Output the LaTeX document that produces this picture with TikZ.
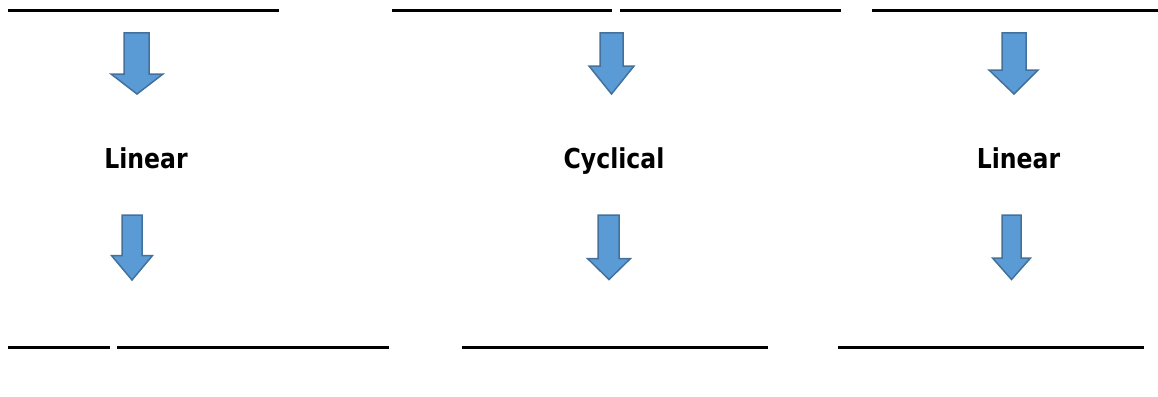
\documentclass[tikz,border=0pt]{standalone}
\usepackage{fontspec}
\newfontfamily\labelfont[FakeStretch=0.86]{DejaVu Sans}
\definecolor{arrowfill}{HTML}{5B9BD5}
\definecolor{arrowline}{HTML}{41719C}
\tikzset{
  blockarrow/.style={fill=arrowfill, draw=arrowline, line width=1.5pt, line join=miter},
  blank/.style={line width=3pt, black},
  steplabel/.style={anchor=base, inner sep=0pt, font=\labelfont\bfseries\fontsize{27.4}{30}\selectfont}
}
\begin{document}
\begin{tikzpicture}[x=1pt, y=-1pt]

\useasboundingbox (0,0) rectangle (1158,396);

% blanks at the top
\draw[blank] (8,11)--(279,11);
\draw[blank] (392,11)--(612,11);
\draw[blank] (620,11)--(841,11);
\draw[blank] (872,11)--(1158,11);

% arrows from the top blanks
\draw[blockarrow] (124,33)--(149,33)--(149,74)--(163,74)--(137,94)--(111,74)--(124,74)--cycle;
\draw[blockarrow] (600,33)--(623,33)--(623,66)--(634,66)--(611.5,94)--(589,66)--(600,66)--cycle;
\draw[blockarrow] (1002,33)--(1026,33)--(1026,70)--(1038,70)--(1014,94)--(989,70)--(1002,70)--cycle;

\node[steplabel] (linleft) at (146,168) {Linear};
\node[steplabel] (cyc) at (614,168) {Cyclical};
\node[steplabel] (linright) at (1018.5,168) {Linear};

% arrows to the bottom blanks
\draw[blockarrow] (122,215)--(142,215)--(142,255.5)--(152.5,255.5)--(132,280)--(111.5,255.5)--(122,255.5)--cycle;
\draw[blockarrow] (598,215)--(619,215)--(619,258.5)--(630.5,258.5)--(609,279.5)--(587.5,258.5)--(598,258.5)--cycle;
\draw[blockarrow] (1002,215)--(1021,215)--(1021,258)--(1030.5,258)--(1011.5,279.5)--(992.5,258)--(1002,258)--cycle;

% blanks at the bottom
\draw[blank] (8,347)--(110,347);
\draw[blank] (117,347)--(389,347);
\draw[blank] (462,347)--(768,347);
\draw[blank] (838,347)--(1144,347);

\end{tikzpicture}
\end{document}
